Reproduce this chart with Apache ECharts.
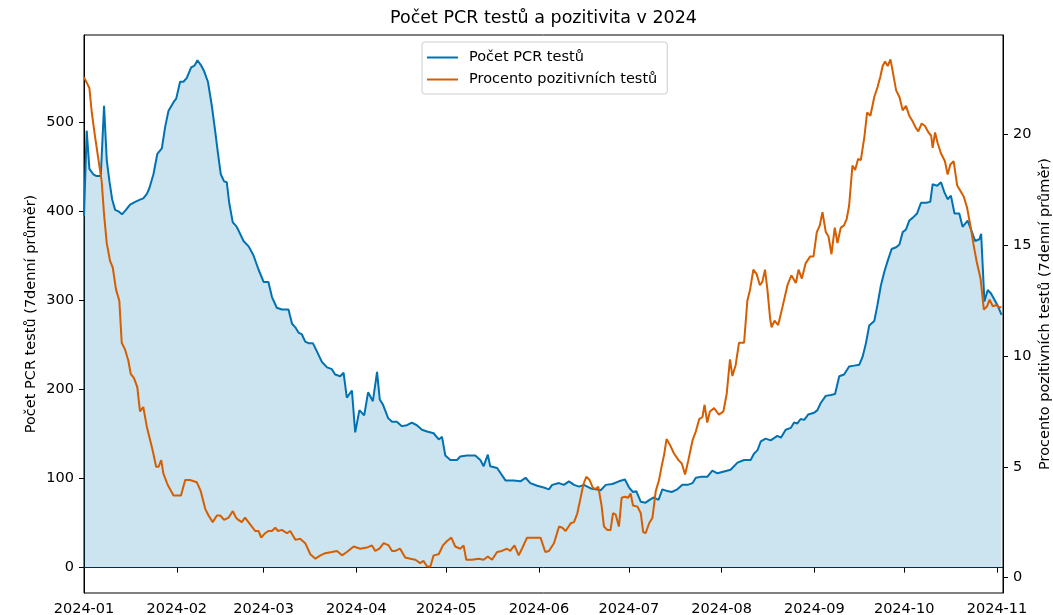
<!DOCTYPE html>
<html>
<head>
<meta charset="utf-8">
<script src="https://cdn.jsdelivr.net/npm/echarts@6/dist/echarts.min.js"></script>
<style>
html, body { margin: 0; padding: 0; background: #fff; }
#chart { width: 1053px; height: 615px; }
</style>
</head>
<body>
<div id="chart"></div>
<script>
// [den od 1.1.2024, hodnota]
var pcrTests = [
    [0,395],[0.9,491],[1.8,448],[3.1,442],[4.2,440],[5.6,440],[6.7,519],[7.6,458],[8.5,434],[9.4,414],
    [10.4,402],[11.7,400],[12.7,397],[14.0,402],[15.4,408],[17.1,411],[19.1,414],[19.8,415],[21.0,420],[21.8,426],
    [23.2,442],[24.5,465],[26.0,471],[27.1,495],[28.2,513],[29.9,523],[30.8,527],[32.1,546],[33.2,546],[34.3,550],
    [35.8,562],[36.9,564],[37.9,570],[39.0,565],[40.1,558],[41.4,546],[42.7,519],[43.8,491],[44.7,467],[45.7,442],
    [46.8,434],[47.7,433],[48.5,410],[49.7,388],[50.8,384],[51.6,379],[53.3,367],[55.0,361],[56.6,351],[58.3,335],
    [60.0,321],[61.6,321],[62.8,304],[64.4,292],[66.1,290],[68.3,290],[69.5,274],[70.6,270],[71.7,264],[72.8,262],
    [73.9,254],[75.2,252],[76.5,252],[77.8,243],[79.5,231],[81.2,225],[82.8,223],[83.9,217],[85.6,215],[86.7,219],
    [87.8,191],[89.5,199],[90.6,152],[92.0,177],[93.6,171],[94.9,197],[96.5,187],[97.9,220],[98.8,189],[99.9,183],
    [101.6,168],[102.9,164],[104.5,164],[106.2,159],[107.9,160],[109.5,163],[111.2,160],[112.9,155],[114.6,153],[116.8,151],
    [118.5,144],[119.6,147],[120.7,126],[122.4,121],[124.6,121],[125.7,125],[127.9,126],[130.7,126],[132.4,121],[133.5,114],
    [134.9,127],[135.7,114],[138.0,112],[140.8,98],[143.5,98],[145.8,97],[147.5,101],[149.1,95],[151.4,92],[153.6,90],
    [155.3,88],[156.4,93],[158.7,95],[160.3,93],[162.0,97],[163.7,93],[165.4,91],[167.0,93],[169.3,89],[170.9,88],
    [172.6,87],[174.3,93],[176.5,94],[178.7,97],[180.7,99],[182.1,90],[183.4,85],[184.5,86],[186.0,74],[187.6,73],
    [189.3,77],[190.4,79],[191.9,76],[193.2,88],[194.9,86],[196.3,85],[198.2,88],[199.9,93],[201.6,93],[203.3,95],
    [204.4,101],[206.0,102],[208.2,102],[209.9,109],[211.6,106],[213.8,108],[216.0,110],[218.3,118],[220.5,121],[222.7,121],
    [223.8,128],[225.0,132],[226.1,142],[227.7,145],[229.4,143],[231.6,148],[232.8,146],[234.4,155],[236.1,157],[237.2,163],
    [238.3,162],[239.4,167],[240.6,166],[241.9,172],[243.9,174],[245.0,177],[246.1,185],[247.8,193],[249.5,194],[250.9,195],
    [252.3,215],[253.9,217],[255.6,226],[257.3,227],[259.0,228],[260.1,237],[261.2,252],[262.3,272],[264.0,277],[265.1,296],
    [266.2,317],[267.4,333],[268.5,345],[269.8,358],[271.3,360],[272.4,363],[273.5,377],[274.6,380],[275.7,390],[276.8,393],
    [278.3,398],[279.6,410],[281.3,410],[282.7,411],[283.5,431],[285.0,429],[286.3,433],[287.4,422],[288.5,414],[289.6,418],
    [290.8,398],[292.4,398],[293.5,383],[295.2,390],[296.3,380],[297.7,367],[299.1,369],[299.7,375],[300.8,299],[301.9,312],
    [303.0,308],[305.3,294],[306.5,284]
];

var positivity = [
    [0,22.6],[1.8,22.1],[2.6,21.0],[3.7,19.9],[4.8,18.9],[5.9,17.9],[6.7,16.4],[7.6,15.1],[8.7,14.3],[9.6,14.0],
    [10.7,13.0],[11.8,12.5],[12.6,10.6],[13.7,10.3],[14.8,9.8],[15.6,9.2],[16.7,9.0],[17.8,8.6],[18.7,7.5],[19.8,7.7],
    [21.0,6.8],[22.1,6.2],[23.0,5.7],[24.1,5.0],[24.9,5.0],[25.8,5.3],[26.5,4.7],[27.9,4.2],[29.9,3.7],[32.4,3.7],
    [33.8,4.4],[35.4,4.4],[37.7,4.3],[39.0,3.9],[40.5,3.1],[41.6,2.8],[43.0,2.5],[44.4,2.8],[45.5,2.8],[46.8,2.6],
    [48.3,2.7],[49.7,3.0],[50.8,2.7],[51.6,2.6],[52.7,2.5],[53.8,2.7],[55.5,2.4],[57.2,2.1],[58.3,2.1],[59.2,1.8],
    [60.5,2.0],[61.6,2.1],[62.8,2.1],[63.9,2.25],[64.8,2.1],[66.1,2.15],[67.8,2.0],[68.9,2.1],[70.6,1.7],[72.2,1.75],
    [73.9,1.55],[75.6,1.05],[77.3,0.85],[79.0,1.0],[80.6,1.1],[82.8,1.15],[84.5,1.2],[86.2,1.0],[87.8,1.15],[90.1,1.4],
    [92.3,1.3],[94.5,1.35],[96.2,1.45],[97.3,1.2],[98.7,1.3],[100.1,1.55],[101.8,1.45],[102.9,1.2],[104.0,1.2],[105.6,1.3],
    [107.3,0.9],[109.0,0.85],[110.7,0.8],[112.3,0.65],[113.4,0.75],[114.6,0.5],[115.7,0.5],[116.8,1.0],[118.5,1.05],[119.9,1.45],
    [121.3,1.65],[122.7,1.8],[124.0,1.4],[125.7,1.3],[126.8,1.45],[127.7,0.8],[129.6,0.8],[131.8,0.85],[133.5,0.8],[134.9,0.95],
    [136.3,0.8],[138.0,1.15],[139.6,1.2],[141.3,1.3],[142.4,1.2],[143.8,1.45],[145.2,1.0],[146.3,1.3],[148.0,1.8],[149.7,1.8],
    [152.5,1.8],[154.1,1.15],[155.3,1.2],[157.0,1.55],[158.7,2.3],[159.8,2.25],[160.9,2.1],[162.6,2.45],[163.7,2.5],[164.8,2.9],
    [165.9,3.6],[166.8,4.2],[167.8,4.55],[168.9,4.4],[170.0,4.05],[170.9,4.0],[171.8,4.1],[172.9,3.25],[173.7,2.3],[174.8,2.15],
    [175.9,2.15],[176.7,2.9],[177.6,2.85],[178.7,2.3],[179.6,3.6],[180.7,3.65],[181.8,3.6],[182.6,3.8],[183.4,3.25],[184.9,3.2],
    [186.0,2.9],[186.8,2.05],[187.6,2.0],[188.8,2.45],[189.9,2.7],[191.0,3.9],[192.1,4.4],[193.0,5.05],[193.8,5.55],[194.6,6.25],
    [195.7,6.0],[197.1,5.6],[198.6,5.3],[199.7,5.15],[200.8,4.65],[201.9,5.3],[203.3,6.2],[204.4,6.6],[205.5,7.15],[206.6,7.25],
    [207.3,7.8],[208.2,7.0],[209.1,7.5],[210.5,7.65],[212.1,7.35],[213.6,7.5],[214.7,8.3],[215.8,9.85],[216.6,9.1],[217.7,9.6],
    [218.8,10.6],[220.5,10.6],[221.6,12.5],[222.5,13.0],[223.6,13.9],[224.7,13.7],[225.8,13.2],[226.6,13.35],[227.5,13.9],[228.3,13.0],
    [229.2,11.7],[229.7,11.3],[230.7,11.6],[231.9,11.4],[233.3,12.2],[235.0,13.2],[236.3,13.65],[237.8,13.3],[238.7,13.9],[239.8,13.5],
    [241.1,14.2],[242.6,14.5],[243.7,14.5],[244.8,15.6],[245.8,15.9],[246.7,16.5],[247.8,15.6],[248.7,15.4],[249.7,14.6],[250.8,15.8],
    [251.7,15.1],[252.8,15.8],[253.9,15.9],[254.8,16.2],[255.6,16.8],[256.7,18.6],[257.6,18.4],[258.6,18.9],[259.5,18.85],[260.7,19.9],
    [261.6,21.0],[262.7,20.85],[264.0,21.7],[265.1,22.15],[266.0,22.6],[266.8,23.1],[267.6,23.3],[268.5,23.1],[269.4,23.4],[270.1,22.9],
    [271.3,22.0],[272.4,21.7],[273.5,21.1],[274.6,21.3],[275.7,20.85],[276.8,20.6],[277.9,20.3],[278.7,20.15],[279.8,20.5],[280.9,20.4],
    [282.1,20.1],[283.0,19.95],[283.5,19.4],[284.3,20.1],[285.2,19.6],[286.3,19.15],[287.6,18.8],[288.5,18.2],[289.4,18.65],[290.5,18.8],
    [291.7,17.7],[292.8,17.45],[293.9,17.2],[295.0,16.7],[296.1,15.9],[297.2,15.0],[298.3,14.2],[299.5,13.5],[300.6,12.1],[301.7,12.25],
    [302.5,12.55],[303.6,12.25],[304.7,12.3],[305.8,12.2],[306.5,12.2]
];

var monthLabels = ['2024-01','2024-02','2024-03','2024-04','2024-05','2024-06','2024-07','2024-08','2024-09','2024-10','2024-11'];
var leftTicks = [0, 100, 200, 300, 400, 500];
var rightTicks = [0, 5, 10, 15, 20];

var FONT = 'DejaVu Sans';
var FS = 14.5;
// osa x v dnech od 1.1.2024
var monthDays = monthLabels.map(function (m) {
    var p = m.split('-');
    return Math.round((Date.UTC(+p[0], +p[1] - 1, 1) - Date.UTC(2024, 0, 1)) / 86400000);
});

var chart = echarts.init(document.getElementById('chart'));

var option = {
    backgroundColor: '#fff',
    animation: false,
    title: {
        text: 'Počet PCR testů a pozitivita v 2024',
        left: 543.5,
        top: 9,
        padding: 0,
        textAlign: 'center',
        textStyle: { fontFamily: FONT, fontSize: 17.5, fontWeight: 'normal', color: '#000' }
    },
    legend: {
        orient: 'vertical',
        left: 422,
        top: 42,
        padding: [8, 10, 7, 5],
        itemGap: 7,
        itemWidth: 31,
        itemHeight: 2,
        icon: 'rect',
        borderColor: '#ccc',
        borderWidth: 1,
        borderRadius: 3,
        backgroundColor: 'rgba(255,255,255,0.8)',
        textStyle: { fontFamily: FONT, fontSize: FS, color: '#000', padding: [0, 0, 0, 6] },
        data: ['Počet PCR testů', 'Procento pozitivních testů']
    },
    grid: {
        left: 84, right: 50, top: 35, bottom: 22,
        outerBoundsMode: 'none',
        containLabel: false,
        show: true, borderColor: '#000', borderWidth: 1
    },
    xAxis: {
        type: 'value',
        min: 0,
        max: 307,
        axisLine: { lineStyle: { color: '#000', width: 1 } },
        axisTick: { show: true, length: 5, lineStyle: { color: '#000' }, customValues: monthDays },
        splitLine: { show: false },
        axisLabel: {
            customValues: monthDays,
            margin: 9,
            fontFamily: FONT, fontSize: FS, color: '#000',
            formatter: function (v) {
                var i = monthDays.indexOf(Math.round(v));
                return i >= 0 ? monthLabels[i] : '';
            }
        }
    },
    yAxis: [
        {
            type: 'value',
            min: -28.5,
            max: 598.5,
            position: 'left',
            name: 'Počet PCR testů (7denní průměr)',
            nameLocation: 'middle',
            nameGap: 45,
            nameMoveOverlap: false,
            nameTextStyle: { fontFamily: FONT, fontSize: FS, color: '#000' },
            axisLine: { show: true, lineStyle: { color: '#000', width: 1 } },
            axisTick: { show: true, length: 5, lineStyle: { color: '#000' }, customValues: leftTicks },
            axisLabel: { customValues: leftTicks, margin: 10, fontFamily: FONT, fontSize: FS, color: '#000' },
            splitLine: { show: false }
        },
        {
            type: 'value',
            min: -0.7,
            max: 24.5,
            position: 'right',
            name: 'Procento pozitivních testů (7denní průměr)',
            nameLocation: 'middle',
            nameGap: 35,
            nameRotate: 90,
            nameMoveOverlap: false,
            nameTextStyle: { fontFamily: FONT, fontSize: FS, color: '#000' },
            axisLine: { show: true, lineStyle: { color: '#000', width: 1 } },
            axisTick: { show: true, length: 5, lineStyle: { color: '#000' }, customValues: rightTicks },
            axisLabel: { customValues: rightTicks, margin: 10, fontFamily: FONT, fontSize: FS, color: '#000' },
            splitLine: { show: false }
        }
    ],
    series: [
        {
            name: 'Počet PCR testů',
            type: 'line',
            yAxisIndex: 0,
            showSymbol: false,
            color: '#0072B2',
            lineStyle: { width: 2, color: '#0072B2' },
            areaStyle: { color: '#0072B2', opacity: 0.2, origin: 0 },
            data: pcrTests,
            markLine: {
                silent: true,
                symbol: 'none',
                label: { show: false },
                lineStyle: { color: 'rgba(0,114,178,0.3)', width: 1, type: 'solid' },
                data: [{ yAxis: 0 }]
            },
            z: 2
        },
        {
            name: 'Procento pozitivních testů',
            type: 'line',
            yAxisIndex: 1,
            showSymbol: false,
            color: '#D55E00',
            lineStyle: { width: 2, color: '#D55E00' },
            data: positivity,
            z: 3
        }
    ]
};

chart.setOption(option);

window.addEventListener('resize', function () {
    chart.resize();
});
</script>
</body>
</html>
